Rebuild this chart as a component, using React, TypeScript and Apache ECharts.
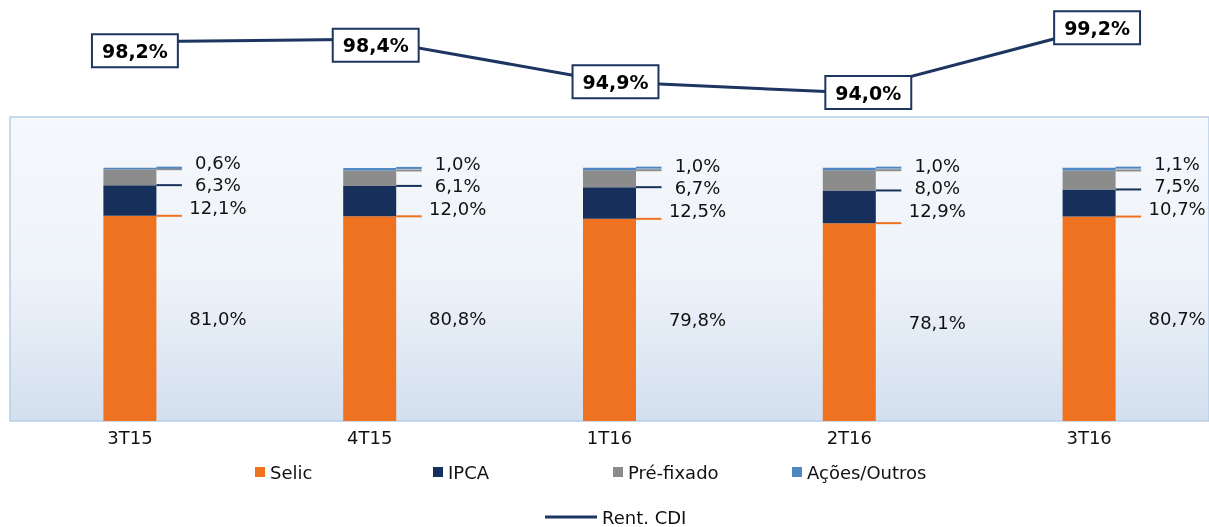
import React, { useEffect, useRef } from "react";
import * as echarts from "echarts";

const categories = ["3T15", "4T15", "1T16", "2T16", "3T16"];
const selic = [81.0, 80.8, 79.8, 78.1, 80.7];
const ipca = [12.1, 12.0, 12.5, 12.9, 10.7];
const prefixado = [6.3, 6.1, 6.7, 8.0, 7.5];
const acoes = [0.6, 1.0, 1.0, 1.0, 1.1];
const rentCDI = [98.2, 98.4, 94.9, 94.0, 99.2];

const ORANGE = "#ee7220";
const NAVY = "#16305b";
const GRAY = "#8c8c8c";
const BLUE = "#4f87c2";
const LINE = "#1c3561";
const FONT = "DejaVu Sans";

// styling: label nudges for the CDI boxes
const cdiLabelShift = [[5, 9], [6, 6], [6, 0], [19, 0], [8, -2]];

const fmt = (v: number) => v.toFixed(1).replace(".", ",") + "%";

export default function App() {
  const ref = useRef<HTMLDivElement>(null);
  useEffect(() => {
    if (!ref.current) return;
    const chart = echarts.init(ref.current, undefined, { renderer: "svg" });
    const half = 26.5;
    const option: any = {
      animation: false,
      textStyle: { fontFamily: FONT },
      grid: [
        {
          left: 10, top: 117, width: 1210, height: 304, show: true,
          borderColor: "#b8cee6", borderWidth: 1.5,
          backgroundColor: new echarts.graphic.LinearGradient(0, 0, 0, 1, [
            { offset: 0, color: "#f5f8fc" },
            { offset: 0.5, color: "#eff4fa" },
            { offset: 1, color: "#d3dfee" },
          ]),
        },
        { left: 10, top: 20, width: 1200, height: 121, show: false },
      ],
      xAxis: [
        {
          type: "category", gridIndex: 0, data: categories,
          axisLine: { show: false }, axisTick: { show: false },
          axisLabel: { color: "#111", fontSize: 18, fontFamily: FONT, margin: 7 },
        },
        { type: "category", gridIndex: 1, data: categories, show: false },
      ],
      yAxis: [
        { type: "value", gridIndex: 0, min: 0, max: 120, show: false, splitLine: { show: false } },
        { type: "value", gridIndex: 1, min: 90, max: 100, show: false, splitLine: { show: false } },
      ],
      legend: [
        ...[["Selic", 255], ["IPCA", 433], ["Pré-fixado", 613], ["Ações/Outros", 792]].map(
          ([name, left]) => ({
            data: [name], left, top: 463, padding: 0, icon: "rect",
            itemWidth: 10, itemHeight: 10, itemGap: 0,
            textStyle: { fontSize: 18, color: "#111", fontFamily: FONT },
          })
        ),
        {
          data: [{ name: "Rent. CDI", icon: "rect" }], left: 545, top: 508, padding: 0,
          itemWidth: 52, itemHeight: 3, itemGap: 0,
          textStyle: { fontSize: 18, color: "#111", fontFamily: FONT },
        },
      ],
      series: [
        { name: "Selic", type: "bar", stack: "t", barWidth: 53, data: selic, itemStyle: { color: ORANGE } },
        { name: "IPCA", type: "bar", stack: "t", barWidth: 53, data: ipca, itemStyle: { color: NAVY } },
        { name: "Pré-fixado", type: "bar", stack: "t", barWidth: 53, data: prefixado, itemStyle: { color: GRAY } },
        { name: "Ações/Outros", type: "bar", stack: "t", barWidth: 53, data: acoes, itemStyle: { color: BLUE } },
        {
          name: "annotations", type: "custom", xAxisIndex: 0, yAxisIndex: 0, z: 5, silent: true,
          data: categories.map((_, i) => [i, 0]),
          renderItem: (params: any, api: any) => {
            const i = params.dataIndex;
            const base = api.coord([i, 0]);
            const cx = base[0];
            const c1 = selic[i];
            const c2 = c1 + ipca[i];
            const c3 = c2 + prefixado[i];
            const c4 = c3 + acoes[i];
            const y1 = api.coord([i, c1])[1];
            const y2 = api.coord([i, c2])[1];
            const y3 = api.coord([i, c3])[1];
            const y4 = api.coord([i, c4])[1];
            const xs = cx + half;
            const xe = cx + 52;
            const tx = cx + 88;
            const line = (y: number, color: string) => ({
              type: "line",
              shape: { x1: xs, y1: y, x2: xe, y2: y },
              style: { stroke: color, lineWidth: 2 },
            });
            const text = (t: string, y: number) => ({
              type: "text",
              style: {
                text: t, x: tx, y, fill: "#111", font: `18px "${FONT}"`,
                align: "center", verticalAlign: "middle",
                textAlign: "center", textVerticalAlign: "middle",
              },
            });
            const tIpca = Math.min(y1 - 8, 210);
            const tPre = tIpca - 23;
            const tAc = tPre - 22;
            return {
              type: "group",
              children: [
                line(y1, ORANGE), line(y2, NAVY), line(y3, GRAY), line(y4, BLUE),
                text(fmt(ipca[i]), tIpca), text(fmt(prefixado[i]), tPre), text(fmt(acoes[i]), tAc),
                text(fmt(selic[i]), (base[1] + y1) / 2),
              ],
            };
          },
        },
        {
          name: "Rent. CDI", type: "line", xAxisIndex: 1, yAxisIndex: 1, z: 10,
          symbol: "circle", symbolSize: 2,
          lineStyle: { color: LINE, width: 3 }, itemStyle: { color: LINE },
          data: rentCDI.map((v, i) => ({
            value: v,
            label: { offset: cdiLabelShift[i] },
          })),
          label: {
            show: true, position: "inside", formatter: (p: any) => fmt(p.value),
            fontFamily: FONT, fontWeight: "bold", fontSize: 19, color: "#000",
            backgroundColor: "#fff", borderColor: LINE, borderWidth: 2, padding: [6, 9],
            lineHeight: 19,
          },
        },
      ],
    };
    chart.setOption(option);
    return () => chart.dispose();
  }, []);
  return <div ref={ref} style={{ position: "fixed", left: 0, top: 0, width: 1209, height: 527 }} />;
}
